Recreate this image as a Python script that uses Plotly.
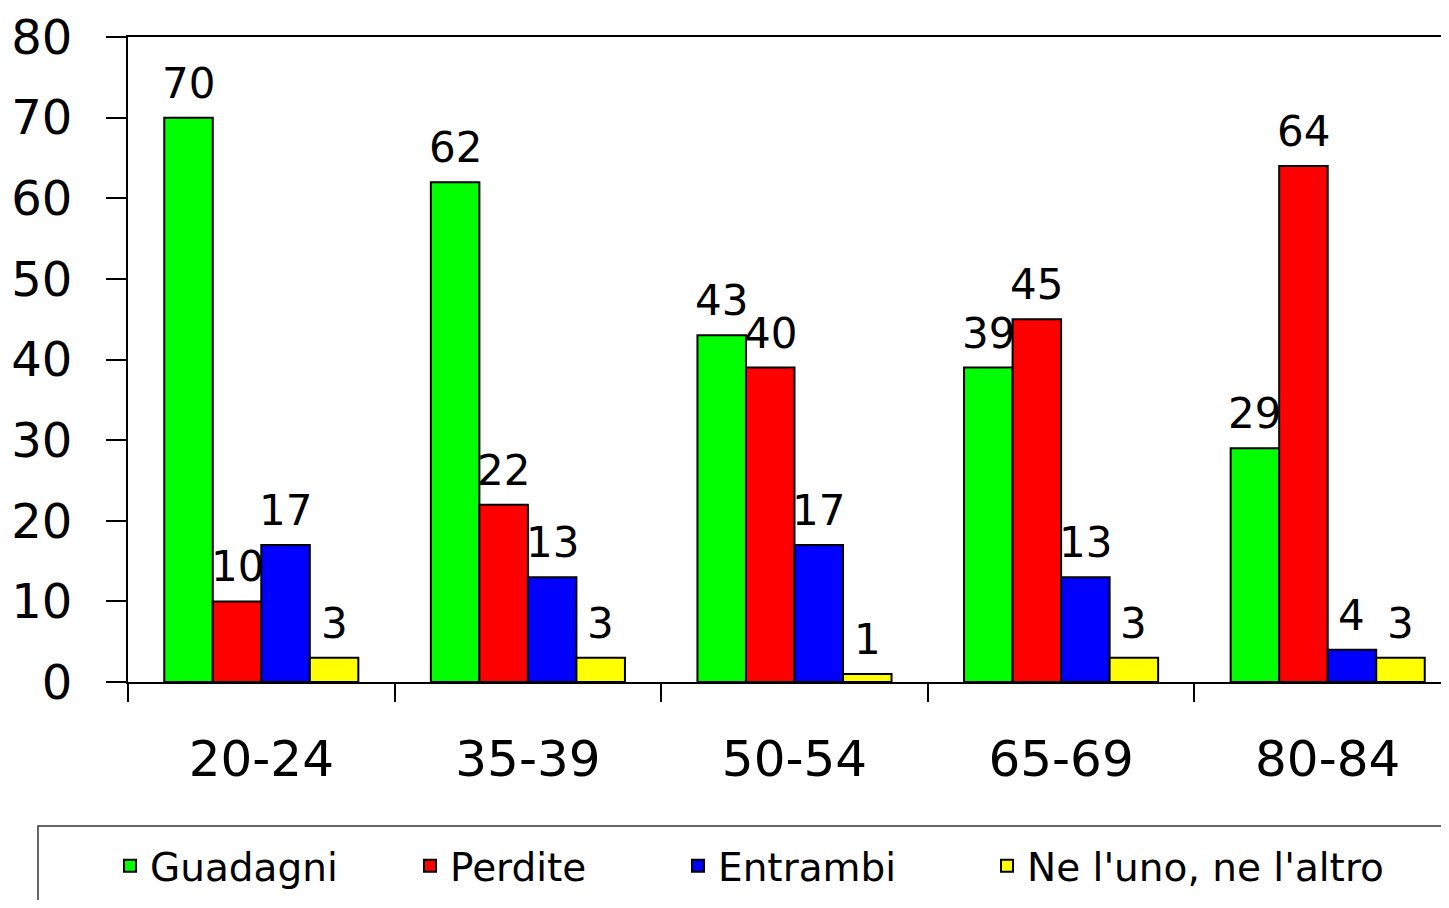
import plotly.graph_objects as go

categories = ["20-24", "35-39", "50-54", "65-69", "80-84"]
series_names = ["Guadagni", "Perdite", "Entrambi", "Ne l'uno, ne l'altro"]
guadagni = [70, 62, 43, 39, 29]
perdite = [10, 22, 39, 45, 64]
entrambi = [17, 13, 17, 13, 4]
nessuno = [3, 3, 1, 3, 3]
values = [guadagni, perdite, entrambi, nessuno]
# printed labels (as shown in the source chart)
labels_guadagni = ["70", "62", "43", "39", "29"]
labels_perdite = ["10", "22", "40", "45", "64"]
labels_entrambi = ["17", "13", "17", "13", "4"]
labels_nessuno = ["3", "3", "1", "3", "3"]
labels = [labels_guadagni, labels_perdite, labels_entrambi, labels_nessuno]
colors = ["#00FF00", "#FF0000", "#0000FF", "#FFFF00"]

FONT = "DejaVu Sans"
OFF = 8  # page body margin
W, H = 1449 - 2 * OFF, 908 - 2 * OFF
ML, MR, MT = 128 - OFF, 0, 37 - OFF
MB = H - (682 - OFF)
PW = W - ML - MR
PH = H - MT - MB
BARGAP = 0.272
CAT_PX = 266.6  # pixel width of one category in the source


def px_x(px):
    return (px - OFF - ML) / PW


def px_y(py):
    return (MT + PH - (py - OFF)) / PH


fig = go.Figure()
legend_px = [110, 410, 678, 987]
legend_keys = ["legend", "legend2", "legend3", "legend4"]
for k, (name, vals, col) in enumerate(zip(series_names, values, colors)):
    fig.add_trace(go.Bar(
        x=categories, y=vals, name=name,
        marker=dict(color=col, line=dict(color="black", width=2)),
        legend=legend_keys[k],
    ))

# value labels above bars
bw = (1 - BARGAP) / 4
for k in range(4):
    for i, cat in enumerate(categories):
        fig.add_annotation(
            x=i + (k - 1.5) * bw, y=values[k][i], xref="x", yref="y",
            text=labels[k][i], showarrow=False, yanchor="bottom",
            yshift=8, font=dict(family=FONT, size=42, color="black"),
        )

# legend frame
fig.add_shape(type="rect", xref="paper", yref="paper",
              x0=px_x(38), x1=1.05,
              y0=px_y(826), y1=-0.5,
              line=dict(color="#333333", width=1.5), fillcolor="rgba(0,0,0,0)")

layout_legends = {}
for k, key in enumerate(legend_keys):
    layout_legends[key] = dict(
        x=px_x(legend_px[k]), xanchor="left",
        y=px_y(834), yanchor="top",
        orientation="h", bgcolor="rgba(0,0,0,0)", borderwidth=0,
        font=dict(family=FONT, size=39, color="black"),
    )

fig.update_layout(
    width=W, height=H,
    margin=dict(l=ML, r=MR, t=MT, b=MB),
    paper_bgcolor="white", plot_bgcolor="white",
    barmode="group", bargap=BARGAP, bargroupgap=0,
    showlegend=True,
    font=dict(family=FONT, color="black"),
    xaxis=dict(
        type="category", range=[-0.5, -0.5 + PW / CAT_PX],
        showline=True, linecolor="black", linewidth=2, mirror=True,
        ticks="outside", tickson="boundaries", ticklen=18, tickwidth=2,
        tickcolor="black", ticklabelstandoff=32,
        tickfont=dict(family=FONT, size=50, color="black"),
        showgrid=False, zeroline=False,
    ),
    yaxis=dict(
        range=[0, 80], dtick=10, tick0=0,
        showline=True, linecolor="black", linewidth=2, mirror=False,
        ticks="outside", ticklen=20, tickwidth=2, tickcolor="black",
        ticklabelstandoff=24,
        tickfont=dict(family=FONT, size=48, color="black"),
        showgrid=False, zeroline=False,
    ),
    **layout_legends,
)

fig.write_html("out.html")
